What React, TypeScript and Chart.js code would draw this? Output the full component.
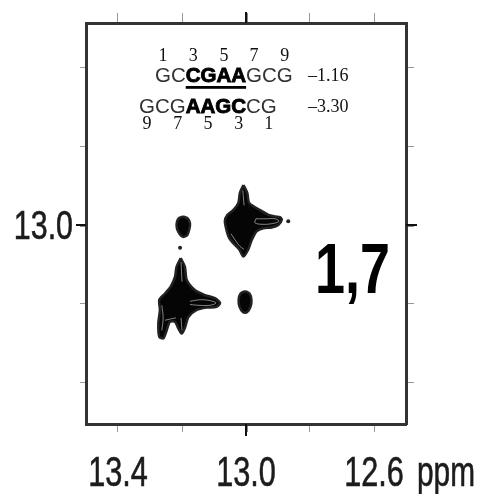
import React, { useEffect, useRef } from 'react';
import { Chart, registerables } from 'chart.js';

Chart.register(...registerables);

// ---- axes ----
const xTickValues = [13.4, 13.2, 13.0, 12.8, 12.6];
const xTickLabels = ['13.4', '', '13.0', '', '12.6'];
const yTickValues = [12.8, 12.9, 13.0, 13.1, 13.2];
const yTickLabels = ['', '', '13.0', '', ''];
const xUnit = 'ppm';
const majorTick = 13.0;

// ---- annotation text ----
const topStrand = 'GCCGAAGCG';
const topBold = [2, 6];
const bottomStrand = 'GCGAAGCCG';
const bottomBold = [3, 7];
const topNumbers = ['1', '3', '5', '7', '9'];
const bottomNumbers = ['9', '7', '5', '3', '1'];
const numberIdx = [0, 2, 4, 6, 8];
const energies = ['\u20131.16', '\u20133.30'];
const peakLabel = '1,7';

// ---- contour outlines (ppm, ppm) ----
const peakUR = [
  [13.008, 12.949], [12.996, 12.959], [12.990, 12.972], [12.956, 12.981], [12.930, 12.987],
  [12.909, 12.989], [12.894, 12.990], [12.888, 12.993], [12.899, 13.000], [12.920, 13.003],
  [12.946, 13.004], [12.967, 13.008], [12.982, 13.019], [12.993, 13.031], [13.008, 13.040],
  [13.021, 13.031], [13.040, 13.023], [13.052, 13.017], [13.060, 13.008], [13.066, 12.995],
  [13.058, 12.987], [13.040, 12.981], [13.024, 12.972], [13.019, 12.959], [13.008, 12.949],
];
const peakLL = [
  [13.204, 13.042], [13.191, 13.053], [13.185, 13.070], [13.159, 13.083], [13.128, 13.089],
  [13.097, 13.093], [13.081, 13.099], [13.092, 13.104], [13.123, 13.105], [13.154, 13.108],
  [13.180, 13.117], [13.191, 13.131], [13.201, 13.138], [13.212, 13.131], [13.222, 13.123],
  [13.238, 13.123], [13.248, 13.134], [13.258, 13.144], [13.271, 13.142], [13.274, 13.125],
  [13.269, 13.108], [13.271, 13.095], [13.253, 13.087], [13.235, 13.078], [13.222, 13.066],
  [13.217, 13.053], [13.204, 13.042],
];
const peakSmallUL = [
  [13.197, 12.989], [13.181, 12.992], [13.175, 12.998], [13.177, 13.005], [13.184, 13.013],
  [13.197, 13.015], [13.208, 13.011], [13.216, 13.004], [13.216, 12.996], [13.209, 12.991],
  [13.197, 12.989],
];
const peakSmallLR = [
  [13.003, 13.084], [12.989, 13.087], [12.983, 13.095], [12.986, 13.104], [12.997, 13.111],
  [13.009, 13.111], [13.020, 13.104], [13.023, 13.095], [13.017, 13.087], [13.003, 13.084],
];
const dots = [
  [12.868, 12.995],
  [13.206, 13.029],
];
// inner contour gaps (light lines inside the dark blobs)
const innerLines = [
  [[12.969, 12.992], [12.938, 12.992], [12.909, 12.992], [12.897, 12.995], [12.916, 12.998], [12.950, 12.999], [12.972, 12.997], [12.969, 12.992]],
  [[13.047, 13.011], [13.034, 13.019], [13.019, 13.027], [13.006, 13.031]],
  [[13.010, 12.956], [13.006, 12.975]],
  [[13.175, 13.097], [13.144, 13.095], [13.113, 13.096], [13.094, 13.099], [13.113, 13.102], [13.150, 13.102], [13.175, 13.101]],
  [[13.263, 13.102], [13.259, 13.118], [13.263, 13.134]],
  [[13.253, 13.121], [13.219, 13.118]],
  [[13.203, 13.047], [13.200, 13.072]],
  [[13.203, 13.118], [13.200, 13.134]],
];

const toXY = (arr: number[][]) => arr.map(([x, y]) => ({ x, y }));

const blob = (pts: number[][]) => ({
  data: toXY(pts),
  showLine: true,
  fill: 'shape',
  backgroundColor: '#050505',
  borderColor: '#222',
  borderWidth: 2.5,
  pointRadius: 0,
  tension: 0.25,
  order: 2,
});

const textPlugin = {
  id: 'nmrText',
  afterDraw(chart: any) {
    const ctx: CanvasRenderingContext2D = chart.ctx;
    const ca = chart.chartArea;
    const xs = chart.scales.x;
    const ys = chart.scales.y;

    // major tick extensions
    ctx.save();
    ctx.strokeStyle = '#111';
    ctx.lineWidth = 2;
    const mx = xs.getPixelForValue(majorTick);
    const my = ys.getPixelForValue(majorTick);
    ctx.beginPath();
    ctx.moveTo(mx, ca.bottom); ctx.lineTo(mx, ca.bottom + 12);
    ctx.moveTo(mx, ca.top); ctx.lineTo(mx, ca.top - 11);
    ctx.moveTo(ca.left, my); ctx.lineTo(ca.left - 10, my);
    ctx.moveTo(ca.right, my); ctx.lineTo(ca.right + 11, my);
    ctx.stroke();
    ctx.restore();

    const drawScaled = (text: string, x: number, y: number, font: string, sx: number, align: CanvasTextAlign, color: string, stroke = 0) => {
      ctx.save();
      ctx.translate(x, y);
      ctx.scale(sx, 1);
      ctx.font = font;
      ctx.fillStyle = color;
      ctx.textAlign = align;
      ctx.textBaseline = 'alphabetic';
      ctx.fillText(text, 0, 0);
      if (stroke) {
        ctx.strokeStyle = color;
        ctx.lineWidth = stroke;
        ctx.strokeText(text, 0, 0);
      }
      ctx.restore();
    };

    // tick labels
    const tickFont = '42px "Liberation Sans", Arial, sans-serif';
    xTickValues.forEach((v, i) => {
      if (!xTickLabels[i]) return;
      drawScaled(xTickLabels[i], xs.getPixelForValue(v), ca.bottom + 62, tickFont, 0.73, 'center', '#1c1c1c', 0.6);
    });
    drawScaled(xUnit, xs.getPixelForValue(xTickValues[xTickValues.length - 1]) + 43, ca.bottom + 62, tickFont, 0.71, 'left', '#1c1c1c', 0.6);
    yTickValues.forEach((v, i) => {
      if (!yTickLabels[i]) return;
      drawScaled(yTickLabels[i], ca.left - 13, ys.getPixelForValue(v) + 14, '40px "Liberation Sans", Arial, sans-serif', 0.76, 'right', '#1c1c1c', 0.6);
    });

    // peak label
    drawScaled(peakLabel, ca.left + 229, ca.top + 270, 'bold 71px "Liberation Sans", Arial, sans-serif', 0.76, 'left', '#000');

    // strands
    const regFont = '20.5px "Liberation Sans", Arial, sans-serif';
    const boldFont = 'bold 20.5px "Liberation Sans", Arial, sans-serif';
    const numFont = '18px "Liberation Serif", "Times New Roman", serif';
    const drawStrand = (s: string, bold: number[], x0: number, base: number, nums: string[], numBase: number, underline: boolean) => {
      let x = x0;
      const centers: number[] = [];
      let bStart = 0, bEnd = 0;
      ctx.save();
      ctx.textBaseline = 'alphabetic';
      ctx.textAlign = 'left';
      for (let i = 0; i < s.length; i++) {
        const isB = i >= bold[0] && i < bold[1];
        ctx.font = isB ? boldFont : regFont;
        ctx.fillStyle = isB ? '#000' : '#333';
        const w = ctx.measureText(s[i]).width;
        if (i === bold[0]) bStart = x;
        ctx.fillText(s[i], x, base);
        if (isB) {
          ctx.strokeStyle = '#000';
          ctx.lineWidth = 0.9;
          ctx.strokeText(s[i], x, base);
        }
        centers.push(x + w / 2);
        x += w;
        if (i === bold[1] - 1) bEnd = x;
      }
      if (underline) {
        ctx.fillStyle = '#000';
        ctx.fillRect(bStart, base + 4, bEnd - bStart, 2.8);
      }
      ctx.font = numFont;
      ctx.fillStyle = '#111';
      ctx.textAlign = 'center';
      nums.forEach((n, k) => ctx.fillText(n, centers[numberIdx[k]], numBase));
      ctx.restore();
    };
    drawStrand(topStrand, topBold, ca.left + 69, ca.top + 59, topNumbers, ca.top + 38, true);
    drawStrand(bottomStrand, bottomBold, ca.left + 53, ca.top + 90, bottomNumbers, ca.top + 106, false);

    ctx.save();
    ctx.font = '18px "Liberation Serif", "Times New Roman", serif';
    ctx.fillStyle = '#111';
    ctx.textAlign = 'left';
    ctx.fillText(energies[0], ca.left + 222, ca.top + 58);
    ctx.fillText(energies[1], ca.left + 222, ca.top + 89);
    ctx.restore();
  },
};

export default function App() {
  const ref = useRef<HTMLCanvasElement>(null);
  useEffect(() => {
    if (!ref.current) return;
    const tickColor = (c: any) => (c.tick && c.tick.value === majorTick ? '#111' : '#999');
    const tickWidth = (c: any) => (c.tick && c.tick.value === majorTick ? 2 : 1);
    const axisBase = (pos: string, axis: string, len: number, vals: number[], size: number, min: number, max: number, rev: boolean) => ({
      type: 'linear',
      axis,
      position: pos,
      min,
      max,
      reverse: rev,
      border: { display: true, color: '#333', width: 3 },
      grid: { drawOnChartArea: false, drawTicks: true, tickLength: len, tickColor, tickWidth },
      ticks: { display: false },
      afterBuildTicks: (s: any) => { s.ticks = vals.map((v) => ({ value: v })); },
      afterFit: (s: any) => {
        if (axis === 'x') s.height = size; else s.width = size;
      },
    });
    const datasets: any[] = [
      blob(peakUR),
      blob(peakLL),
      blob(peakSmallUL),
      blob(peakSmallLR),
      ...innerLines.map((l) => ({
        data: toXY(l),
        showLine: true,
        fill: false,
        borderColor: 'rgba(255,255,255,0.5)',
        borderWidth: 1,
        pointRadius: 0,
        tension: 0.4,
        order: 0,
      })),
      {
        data: toXY(dots),
        showLine: false,
        pointRadius: 2,
        pointBackgroundColor: '#222',
        pointBorderWidth: 0,
        order: 1,
      },
    ];
    const chart = new Chart(ref.current, {
      type: 'scatter',
      data: { datasets },
      options: {
        animation: false,
        responsive: false,
        events: [],
        layout: { padding: 0 },
        plugins: { legend: { display: false }, tooltip: { enabled: false } },
        scales: {
          x: axisBase('bottom', 'x', 8, xTickValues, 70, 12.5, 13.5, true),
          xTop: axisBase('top', 'x', 10, xTickValues, 23, 12.5, 13.5, true),
          y: axisBase('left', 'y', 6, yTickValues, 86, 12.743, 13.253, true),
          yRight: axisBase('right', 'y', 8, yTickValues, 74, 12.743, 13.253, true),
        } as any,
      },
      plugins: [textPlugin],
    } as any);
    return () => chart.destroy();
  }, []);
  return (
    <div style={{ position: 'fixed', left: 0, top: 0, width: 480, height: 494, background: '#fff' }}>
      <canvas ref={ref} width={480} height={494} style={{ display: 'block' }} />
    </div>
  );
}
